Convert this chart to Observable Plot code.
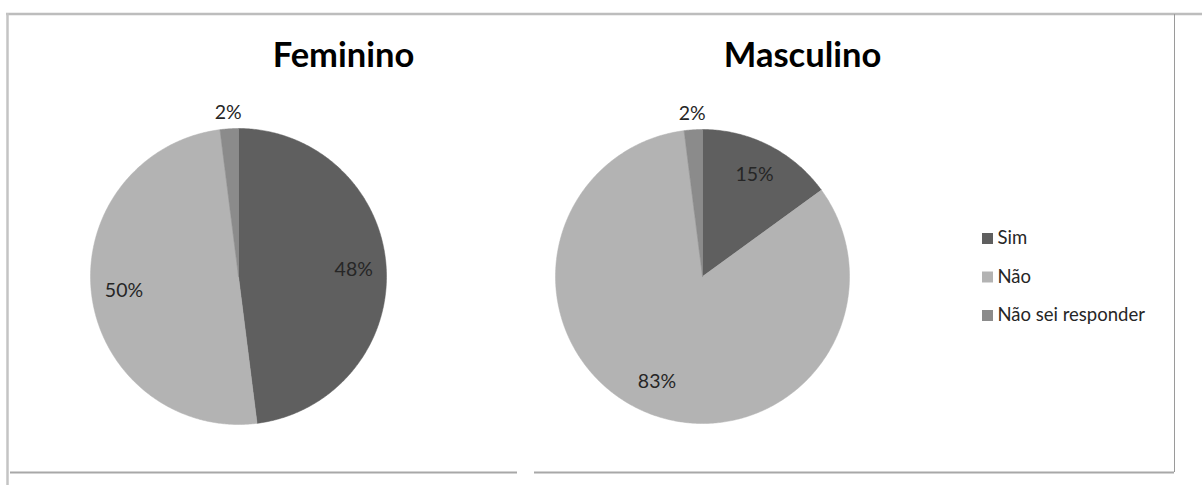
<!DOCTYPE html>
<html>
<head>
<meta charset="utf-8">
<script src="https://cdn.jsdelivr.net/npm/d3@7"></script>
<script src="https://cdn.jsdelivr.net/npm/@observablehq/plot@0.6"></script>
<style>
  html, body { margin: 0; padding: 0; background: #fff; }
  #chart { width: 1202px; height: 485px; }
</style>
</head>
<body>
<div id="chart"></div>
<script>
// ---- data ----
const categories = ["Sim", "Não", "Não sei responder"];
const panelTitles = ["Feminino", "Masculino"];
const femininoValues = [48, 50, 2];
const masculinoValues = [15, 83, 2];
const sliceColors = ["#5f5f5f", "#b3b3b3", "#8b8b8b"];

// ---- layout ----
const W = 1202, H = 485;
const pies = [
  {title: panelTitles[0], values: femininoValues, cx: 238, cy: 276, r: 148, tx: 343},
  {title: panelTitles[1], values: masculinoValues, cx: 702, cy: 276, r: 147, tx: 802}
];
const FONT = "Lato, 'Open Sans', sans-serif";

// build slice outlines and labels from the values
const slicePts = [];
const labels = [];
for (const p of pies) {
  const arcs = d3.pie().sort(null).startAngle(0)(p.values);
  arcs.forEach((a, i) => {
    const key = p.title + "|" + categories[i];
    slicePts.push({key, cat: categories[i], x: p.cx, y: p.cy});
    const n = Math.max(4, Math.ceil((a.endAngle - a.startAngle) / 0.01));
    for (let k = 0; k <= n; k++) {
      const t = a.startAngle + (a.endAngle - a.startAngle) * k / n;
      slicePts.push({key, cat: categories[i], x: p.cx + p.r * Math.sin(t), y: p.cy - p.r * Math.cos(t)});
    }
    slicePts.push({key, cat: categories[i], x: p.cx, y: p.cy});
    const mid = (a.startAngle + a.endAngle) / 2;
    const total = d3.sum(p.values);
    const pct = a.data / total;
    const rr = pct < 0.05 ? p.r + 16 : p.r * 0.78;
    labels.push({x: p.cx + rr * Math.sin(mid), y: p.cy - rr * Math.cos(mid), text: Math.round(pct * 100) + "%"});
  });
}

const titles = pies.map(p => ({x: p.tx, y: 66, text: p.title}));
const legendRows = categories.map((c, i) => ({cat: c, x: 987, y: 238 + i * 38.5}));

const frameH = [
  {x1: 6, x2: 1202, y: 13.5, stroke: "#bdbdbd", w: 2.5},
  {x1: 10, x2: 517, y: 472, stroke: "#a8a8a8", w: 2},
  {x1: 534, x2: 1174, y: 472, stroke: "#a8a8a8", w: 2}
];
const frameV = [
  {x: 7, y1: 13, y2: 485, stroke: "#c4c4c4", w: 2.5},
  {x: 1174, y1: 14, y2: 472, stroke: "#9a9a9a", w: 1}
];

const chart = Plot.plot({
  width: W, height: H,
  margin: 0,
  x: {domain: [0, W], range: [0, W], axis: null},
  y: {domain: [0, H], range: [0, H], axis: null},
  color: {domain: categories, range: sliceColors},
  style: {background: "#fff", fontFamily: FONT},
  marks: [
    Plot.ruleY(frameH, {x1: "x1", x2: "x2", y: "y", stroke: d => d.stroke, strokeWidth: d => d.w}),
    Plot.ruleX(frameV, {x: "x", y1: "y1", y2: "y2", stroke: d => d.stroke, strokeWidth: d => d.w}),
    Plot.line(slicePts, {x: "x", y: "y", z: "key", fill: "cat", stroke: "cat", strokeWidth: 0.5, curve: "linear-closed"}),
    Plot.text(labels, {x: "x", y: "y", text: "text", fontSize: 19.5, fill: "#262626", textAnchor: "middle", lineAnchor: "middle"}),
    Plot.text(titles, {x: "x", y: "y", text: "text", fontSize: 34.5, fontWeight: "bold", fill: "#000", textAnchor: "middle", lineAnchor: "bottom"}),
    Plot.dot(legendRows, {x: "x", y: "y", symbol: "square", r: 6.2, fill: "cat", stroke: null}),
    Plot.text(legendRows, {x: d => d.x + 10, y: "y", text: "cat", fontSize: 18.5, fill: "#262626", textAnchor: "start", lineAnchor: "middle"})
  ]
});
document.getElementById("chart").appendChild(chart);
</script>
</body>
</html>
